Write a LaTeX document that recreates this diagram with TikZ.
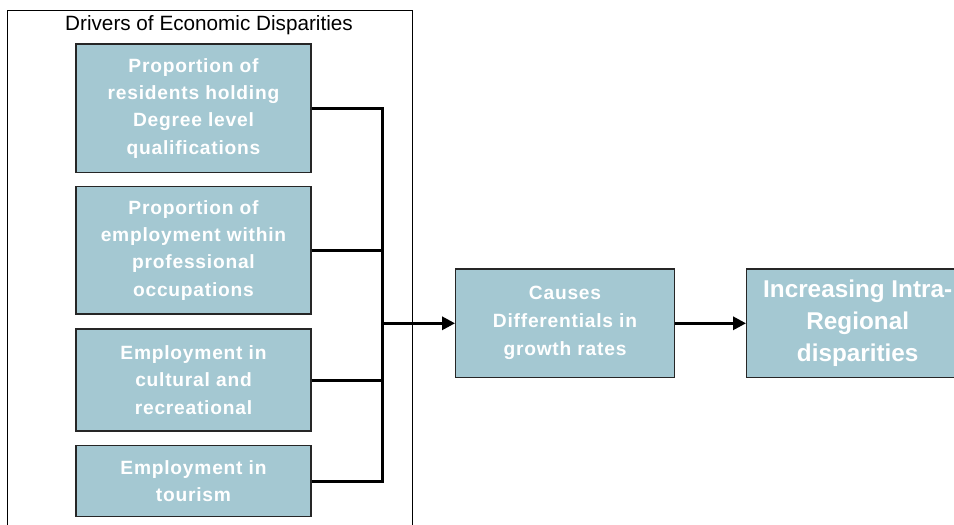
\documentclass[tikz,border=0pt]{standalone}
\usepackage{fontspec}
\setmainfont{Liberation Sans}
\newfontfamily\boxfont[LetterSpace=4]{Liberation Sans}
\usetikzlibrary{arrows.meta}
\definecolor{boxblue}{RGB}{164,200,210}
\begin{document}
\begin{tikzpicture}[x=1pt,y=-1pt,
  driverbox/.style={draw=black!85, line width=1.3pt, fill=boxblue, text=white, align=center, inner sep=0pt,
    font=\boxfont\bfseries\fontsize{19.2}{27.3}\selectfont},
  bigbox/.style={draw=black!85, line width=1.3pt, fill=boxblue, text=white, align=center, inner sep=0pt,
    font=\bfseries\fontsize{24.3}{32}\selectfont},
  conn/.style={line width=3pt, line join=miter},
  arr/.style={line width=3pt, -{Triangle[length=13pt,width=13pt]}}]
\useasboundingbox (0,0) rectangle (954,525);
\draw[line width=0.9pt] (7,10) rectangle (412.5,545);
\node[anchor=base, font=\fontsize{20.7}{24}\selectfont] (title) at (209,30.7) {Drivers of Economic Disparities};
\node[driverbox, minimum width=235pt, minimum height=128.7pt] (b1) at (193.5,108.3)
  {Proportion of\\residents holding\\Degree level\\qualifications};
\node[driverbox, minimum width=235pt, minimum height=127.3pt] (b2) at (193.5,250.3)
  {Proportion of\\employment within\\professional\\occupations};
\node[driverbox, minimum width=235pt, minimum height=102pt] (b3) at (193.5,380)
  {Employment in\\cultural and\\recreational};
\node[driverbox, minimum width=235pt, minimum height=71pt] (b4) at (193.5,481.2)
  {Employment in\\tourism};
\node[driverbox, minimum width=218.6pt, minimum height=108.7pt, font=\boxfont\bfseries\fontsize{19.2}{28}\selectfont] (causes) at (565,323.3)
  {Causes\\Differentials in\\growth rates};
\node[bigbox, minimum width=222pt, minimum height=108.7pt] (incr) at (857.7,323.3)
  {Increasing Intra-\\Regional\\disparities};
\coordinate (j) at (382.3,323.3);
\draw[conn] (b1.east) -| (j);
\draw[conn] (b2.east) -| (j);
\draw[conn] (b3.east) -| (j);
\draw[conn] (b4.east) -| (j);
\draw[arr] (j) -- (causes.west);
\draw[arr] (causes.east) -- (incr.west);
\end{tikzpicture}
\end{document}
